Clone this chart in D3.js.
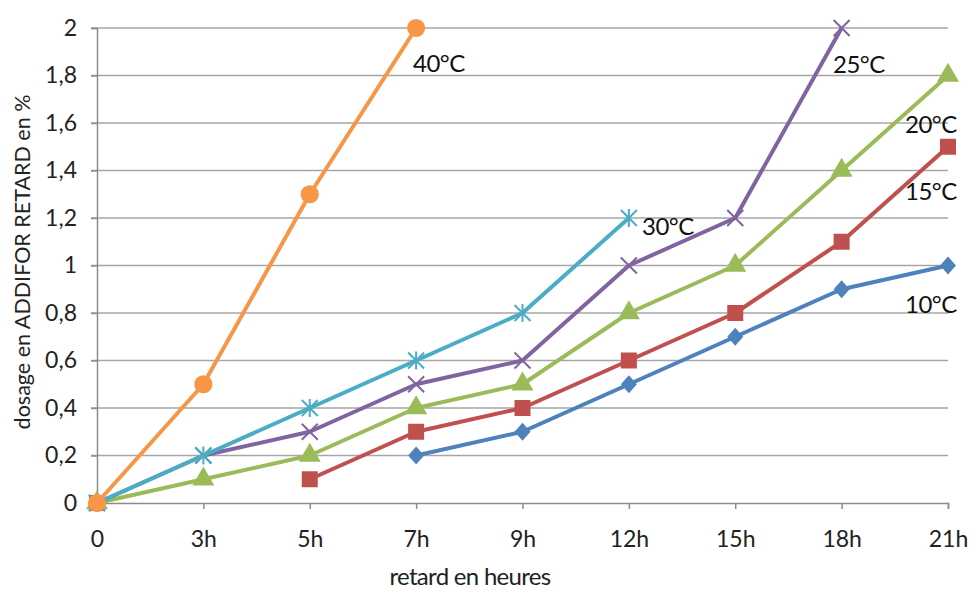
<!DOCTYPE html>
<html>
<head>
<meta charset="utf-8">
<script src="https://cdn.jsdelivr.net/npm/d3@7"></script>
<style>
  body { margin: 0; background: #fff; }
  svg { display: block; font-family: Lato, "Open Sans", sans-serif; }
</style>
</head>
<body>
<svg id="chart" width="971" height="591"></svg>
<script>
// Retard categories (x axis)
const categories = ["0", "3h", "5h", "7h", "9h", "12h", "15h", "18h", "21h"];
// Y tick values
const yTicks = [0, 0.2, 0.4, 0.6, 0.8, 1, 1.2, 1.4, 1.6, 1.8, 2];

// Dosage per temperature (null = no point)
const s10 = [null, null, null, 0.2, 0.3, 0.5, 0.7, 0.9, 1.0];
const s15 = [0, null, 0.1, 0.3, 0.4, 0.6, 0.8, 1.1, 1.5];
const s20 = [0, 0.1, 0.2, 0.4, 0.5, 0.8, 1.0, 1.4, 1.8];
const s25 = [0, 0.2, 0.3, 0.5, 0.6, 1.0, 1.2, 2.0, null];
const s30 = [0, 0.2, 0.4, 0.6, 0.8, 1.2, null, null, null];
const s40 = [0, 0.5, 1.3, 2.0, null, null, null, null, null];

const seriesNames = ["10°C", "15°C", "20°C", "25°C", "30°C", "40°C"];

const series = [
  { name: seriesNames[0], values: s10, color: "#4F81BD", marker: "diamond",  label: [905, 313] },
  { name: seriesNames[1], values: s15, color: "#C0504D", marker: "square",   label: [905, 200] },
  { name: seriesNames[2], values: s20, color: "#9BBB59", marker: "triangle", label: [905, 133] },
  { name: seriesNames[3], values: s25, color: "#8064A2", marker: "x",        label: [833, 73] },
  { name: seriesNames[4], values: s30, color: "#4BACC6", marker: "star",     label: [642, 235] },
  { name: seriesNames[5], values: s40, color: "#F79646", marker: "circle",   label: [413, 72] }
];

const svg = d3.select("#chart");
const plotL = 97, plotR = 948, plotT = 28, plotB = 503;

const x = d3.scalePoint().domain(categories).range([plotL, plotR]);
const y = d3.scaleLinear().domain([0, 2]).range([plotB, plotT]);

const fmt = v => String(+v.toFixed(1)).replace(".", ",");

// gridlines
svg.append("g").selectAll("line").data(yTicks.filter(d => d > 0)).join("line")
  .attr("x1", plotL - 6).attr("x2", plotR)
  .attr("y1", d => y(d)).attr("y2", d => y(d))
  .attr("stroke", "#a6a6a6").attr("stroke-width", 1.5);

// y axis
const yAxis = svg.append("g").attr("transform", `translate(${plotL},0)`)
  .call(d3.axisLeft(y).tickValues(yTicks).tickFormat(fmt).tickSize(6).tickPadding(14));
yAxis.select(".domain").attr("stroke", "#8c8c8c").attr("stroke-width", 1.5);
yAxis.selectAll(".tick line").attr("stroke", "#8c8c8c").attr("stroke-width", 1.5);
yAxis.selectAll("text").attr("font-size", 23).attr("fill", "#222").attr("font-family", "Lato, sans-serif");

// x axis
const xAxis = svg.append("g").attr("transform", `translate(0,${plotB})`)
  .call(d3.axisBottom(x).tickSize(6).tickPadding(22));
xAxis.select(".domain").attr("stroke", "#8c8c8c").attr("stroke-width", 1.5);
xAxis.selectAll(".tick line").attr("stroke", "#8c8c8c").attr("stroke-width", 1.5);
xAxis.selectAll("text").attr("font-size", 23).attr("fill", "#222").attr("font-family", "Lato, sans-serif");

// axis titles
svg.append("text").attr("x", 470).attr("y", 585).attr("text-anchor", "middle")
  .attr("font-size", 24).attr("letter-spacing", -0.7).attr("fill", "#222").text("retard en heures");
svg.append("text").attr("transform", "translate(30,262) rotate(-90)").attr("text-anchor", "middle")
  .attr("font-size", 21.5).attr("fill", "#222").text("dosage en ADDIFOR RETARD en %");

// lines
const line = d3.line()
  .defined(d => d.v !== null)
  .x(d => x(d.c)).y(d => y(d.v));

const markerPath = {
  diamond: "M0,-9L8,0L0,9L-8,0Z",
  square: d3.symbol().type(d3.symbolSquare).size(256)(),
  triangle: d3.symbol().type(d3.symbolTriangle).size(210)(),
  circle: d3.symbol().type(d3.symbolCircle).size(260)()
};

series.forEach(s => {
  const pts = s.values.map((v, i) => ({ c: categories[i], v }));
  const g = svg.append("g");
  g.append("path").datum(pts).attr("d", line)
    .attr("fill", "none").attr("stroke", s.color).attr("stroke-width", 4)
    .attr("stroke-linejoin", "round");
  const mk = g.selectAll("g.m").data(pts.filter(p => p.v !== null)).join("g")
    .attr("transform", p => `translate(${x(p.c)},${y(p.v)})`);
  if (s.marker === "x") {
    mk.append("path").attr("d", "M-8,-8L8,8M-8,8L8,-8")
      .attr("stroke", s.color).attr("stroke-width", 2);
  } else if (s.marker === "star") {
    mk.append("path").attr("d", "M-8,-8L8,8M-8,8L8,-8M0,-9L0,9")
      .attr("stroke", s.color).attr("stroke-width", 2);
  } else {
    mk.append("path").attr("d", markerPath[s.marker]).attr("fill", s.color);
  }
});

// series labels
svg.append("g").selectAll("text").data(series).join("text")
  .attr("x", s => s.label[0]).attr("y", s => s.label[1])
  .attr("font-size", 24).attr("letter-spacing", -0.5).attr("fill", "#111")
  .text(s => s.name);
</script>
</body>
</html>
